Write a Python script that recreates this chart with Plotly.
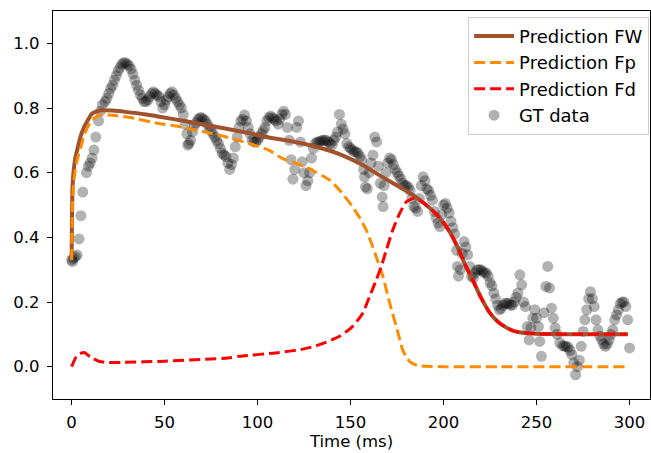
import plotly.graph_objects as go

# GT data (time in ms, value)
gt_t = [0, 0.5, 1, 2, 3, 4, 5, 6, 8, 9, 10, 11, 12, 13, 14.5, 15.5, 16.5, 18, 19, 20,
        21, 22, 23, 24, 25, 26, 27, 28, 29, 30, 31, 32, 33, 34, 35, 36, 37, 38, 39, 40,
        41, 42, 43, 44, 45, 46, 47, 48, 49, 50, 51, 52, 53, 54, 55, 56, 57, 58, 59, 60,
        61, 62, 62.5, 63, 64, 65, 66, 67, 68, 69, 70, 71, 72, 73, 74, 75, 76, 77, 78, 79,
        80, 81, 82, 83, 84, 85, 86, 87, 88, 89, 90, 91, 92, 93, 94, 95, 96, 97, 98, 99,
        100, 101, 102, 103, 104, 105, 106, 107, 108, 109, 110, 111, 112, 113, 114, 115, 116, 117, 118, 119,
        120, 121, 122, 123, 124, 125, 126, 127, 128, 129, 130, 131, 132, 133, 134, 135, 136, 137, 138, 139,
        140, 141, 142, 143, 144, 145, 146, 147, 148, 149, 150, 151, 152, 153, 154, 155, 156, 157, 157.5, 158,
        159, 160, 161, 162, 163, 164, 165, 166, 167, 167.5, 168, 169, 170, 171, 172, 173, 174, 175, 176, 177,
        178, 179, 180, 181, 182, 183, 184, 185, 186, 187, 188, 189, 190, 191, 192, 193, 194, 195, 196, 197,
        198, 199, 200, 201, 202, 203, 204, 205, 206, 207, 207.5, 208, 209, 210, 211, 212, 213, 214, 215, 216,
        217, 218, 219, 220, 221, 222, 223, 224, 225, 226, 227, 228, 229, 230, 231, 232, 233, 234, 235, 236,
        237, 238, 239, 240, 241, 242, 243, 244, 245, 246, 247, 248, 249, 250, 251, 251.7, 252.6, 254, 255, 256,
        257, 258, 259, 260, 261, 262.5, 264, 265, 266, 267, 268, 269, 270, 271, 272, 273, 274, 275, 276, 277,
        278, 279, 280, 281, 282, 283, 284, 285, 286, 287, 288, 289, 290, 291, 292, 293, 294, 295, 296, 297,
        298, 299, 300]
gt_v = [0.33, 0.325, 0.335, 0.34, 0.345, 0.395, 0.467, 0.54, 0.60, 0.62, 0.63, 0.645, 0.67, 0.71, 0.76, 0.79, 0.81, 0.82, 0.83, 0.845,
        0.86, 0.87, 0.886, 0.90, 0.915, 0.925, 0.935, 0.94, 0.94, 0.935, 0.93, 0.92, 0.905, 0.886, 0.87, 0.855, 0.84, 0.83, 0.82, 0.82,
        0.825, 0.835, 0.845, 0.85, 0.845, 0.84, 0.835, 0.82, 0.80, 0.81, 0.825, 0.835, 0.845, 0.85, 0.84, 0.83, 0.82, 0.81, 0.80, 0.78,
        0.75, 0.72, 0.685, 0.69, 0.70, 0.726, 0.745, 0.755, 0.765, 0.77, 0.77, 0.765, 0.76, 0.75, 0.74, 0.73, 0.72, 0.71, 0.70, 0.69,
        0.675, 0.66, 0.655, 0.65, 0.63, 0.61, 0.625, 0.645, 0.68, 0.71, 0.74, 0.76, 0.765, 0.778, 0.76, 0.74, 0.72, 0.70, 0.695, 0.695,
        0.70, 0.71, 0.72, 0.73, 0.74, 0.76, 0.77, 0.775, 0.77, 0.765, 0.76, 0.75, 0.765, 0.78, 0.79, 0.78, 0.74, 0.70, 0.64, 0.58,
        0.61, 0.74, 0.76, 0.695, 0.634, 0.60, 0.56, 0.575, 0.60, 0.645, 0.675, 0.69, 0.695, 0.695, 0.698, 0.70, 0.70, 0.70, 0.695, 0.69,
        0.685, 0.70, 0.71, 0.726, 0.78, 0.75, 0.735, 0.72, 0.69, 0.68, 0.675, 0.67, 0.665, 0.665, 0.66, 0.65, 0.64, 0.61, 0.587, 0.556,
        0.55, 0.60, 0.63, 0.654, 0.71, 0.695, 0.62, 0.567, 0.525, 0.495, 0.56, 0.60, 0.63, 0.645, 0.64, 0.625, 0.61, 0.60, 0.59, 0.58,
        0.567, 0.56, 0.56, 0.555, 0.545, 0.52, 0.495, 0.49, 0.48, 0.52, 0.56, 0.587, 0.575, 0.55, 0.545, 0.53, 0.515, 0.48, 0.46, 0.444,
        0.433, 0.47, 0.50, 0.505, 0.49, 0.475, 0.45, 0.43, 0.41, 0.36, 0.31, 0.28, 0.30, 0.35, 0.387, 0.37, 0.346, 0.31, 0.28, 0.275,
        0.29, 0.30, 0.30, 0.30, 0.295, 0.29, 0.29, 0.28, 0.26, 0.25, 0.228, 0.21, 0.19, 0.176, 0.18, 0.19, 0.196, 0.196, 0.195, 0.19,
        0.19, 0.20, 0.215, 0.228, 0.284, 0.253, 0.20, 0.186, 0.124, 0.083, 0.12, 0.15, 0.176, 0.15, 0.124, 0.078, 0.032, 0.167, 0.248, 0.31,
        0.243, 0.181, 0.15, 0.12, 0.10, 0.074, 0.065, 0.063, 0.063, 0.06, 0.05, 0.037, 0.011, -0.025, 0.0, 0.02, 0.063, 0.109, 0.145, 0.176,
        0.21, 0.232, 0.21, 0.186, 0.145, 0.114, 0.095, 0.083, 0.07, 0.063, 0.07, 0.083, 0.10, 0.114, 0.145, 0.16, 0.176, 0.195, 0.20, 0.20,
        0.186, 0.145, 0.058]

# model predictions
fw_t = [0, 0.5, 1, 2, 3, 5, 6.7, 9, 11, 14, 16.5, 22, 29, 40, 52.5, 70, 95.6, 106, 120, 131.5,
        145, 156, 167, 178, 185, 190, 195, 200, 204, 208.7, 212, 215.7, 220, 224.8, 229, 234, 238, 242.6, 250, 257, 270, 299]
fw_v = [0.33, 0.556, 0.60, 0.645, 0.67, 0.715, 0.74, 0.765, 0.783, 0.79, 0.793, 0.792, 0.788, 0.78, 0.768, 0.75, 0.722, 0.709, 0.695, 0.68,
        0.655, 0.625, 0.587, 0.55, 0.525, 0.503, 0.478, 0.445, 0.41, 0.355, 0.31, 0.268, 0.215, 0.167, 0.14, 0.12, 0.11, 0.105, 0.102, 0.101, 0.10, 0.10]

fp_t = [0, 0.5, 1, 2, 3, 5, 7, 10, 13, 15, 20, 30, 47, 60, 80, 95.6, 106, 113, 125, 138.7,
        145, 151, 155, 158.4, 161, 163.8, 167.4, 171, 174.6, 178, 180, 181.7, 184, 186, 190.7, 200, 230, 299]
fp_v = [0.33, 0.50, 0.56, 0.61, 0.64, 0.68, 0.72, 0.755, 0.772, 0.778, 0.778, 0.772, 0.752, 0.74, 0.715, 0.69, 0.67, 0.645, 0.62, 0.577,
        0.54, 0.495, 0.46, 0.423, 0.385, 0.34, 0.279, 0.197, 0.124, 0.052, 0.03, 0.016, 0.008, 0.004, 0.001, 0.0, 0.0, 0.0]

fd_t = [0, 3, 6.7, 10, 15, 20, 26.5, 50, 84, 90.2, 111.7, 125, 133.3, 144, 151, 156.6, 160.2, 163.8, 166.5, 169.2,
        172.7, 176.4, 180, 183.5, 186, 190, 195, 200, 204, 208.7, 212, 215.7, 220, 224.8, 229, 234, 238, 242.6, 250, 257, 270, 299]
fd_v = [0.0, 0.035, 0.044, 0.03, 0.016, 0.013, 0.013, 0.017, 0.027, 0.032, 0.044, 0.055, 0.068, 0.094, 0.124, 0.166, 0.217, 0.268, 0.31, 0.36,
        0.423, 0.474, 0.51, 0.52, 0.518, 0.503, 0.478, 0.445, 0.41, 0.355, 0.31, 0.268, 0.215, 0.167, 0.14, 0.12, 0.11, 0.105, 0.102, 0.101, 0.10, 0.10]

x_ticks = [0, 50, 100, 150, 200, 250, 300]
y_ticks = [0.0, 0.2, 0.4, 0.6, 0.8, 1.0]

FONT = "DejaVu Sans"
fsize = 16.5

fig = go.Figure()
fig.add_trace(go.Scatter(x=gt_t, y=gt_v, mode="markers", name="GT data", legendrank=4,
                         marker=dict(size=11, color="rgba(0,0,0,0.3)", line=dict(width=0))))
fig.add_trace(go.Scatter(x=fw_t, y=fw_v, mode="lines", name="Prediction FW", legendrank=1,
                         line=dict(color="#A0522D", width=4, shape="spline", smoothing=0.6)))
fig.add_trace(go.Scatter(x=fp_t, y=fp_v, mode="lines", name="Prediction Fp", legendrank=2,
                         line=dict(color="#FF8C00", width=3, dash="11px,5px", shape="spline", smoothing=0.6)))
fig.add_trace(go.Scatter(x=fd_t, y=fd_v, mode="lines", name="Prediction Fd", legendrank=3,
                         line=dict(color="#FF0000", width=3, dash="11px,5px", shape="spline", smoothing=0.6)))

axis_style = dict(showline=True, linecolor="black", linewidth=1.2, mirror=True,
                  ticks="outside", ticklen=5, tickwidth=1.2, tickcolor="black",
                  showgrid=False, zeroline=False,
                  tickfont=dict(family=FONT, size=fsize, color="black"))

fig.update_xaxes(range=[-10, 311], tickvals=x_ticks, ticklabelstandoff=3,
                 title=dict(text="Time (ms)", font=dict(family=FONT, size=fsize, color="black"), standoff=3),
                 **axis_style)
fig.update_yaxes(range=[-0.1, 1.1], tickvals=y_ticks, tickformat=".1f", ticklabelstandoff=4, **axis_style)

fig.update_layout(
    width=651, height=453,
    margin=dict(l=53, r=1, t=11, b=54),
    plot_bgcolor="white", paper_bgcolor="white",
    font=dict(family=FONT, size=fsize, color="black"),
    legend=dict(x=0.9985, y=0.985, xanchor="right", yanchor="top",
                bgcolor="rgba(255,255,255,0.8)", bordercolor="#cccccc", borderwidth=1,
                font=dict(family=FONT, size=18), tracegroupgap=0, itemwidth=40),
)

# page body has a default 8px margin, drop it so the figure sits at the corner
fig.write_html("out.html", config={"displayModeBar": False},
               post_script="document.body.style.margin='0';document.body.style.padding='0';")
